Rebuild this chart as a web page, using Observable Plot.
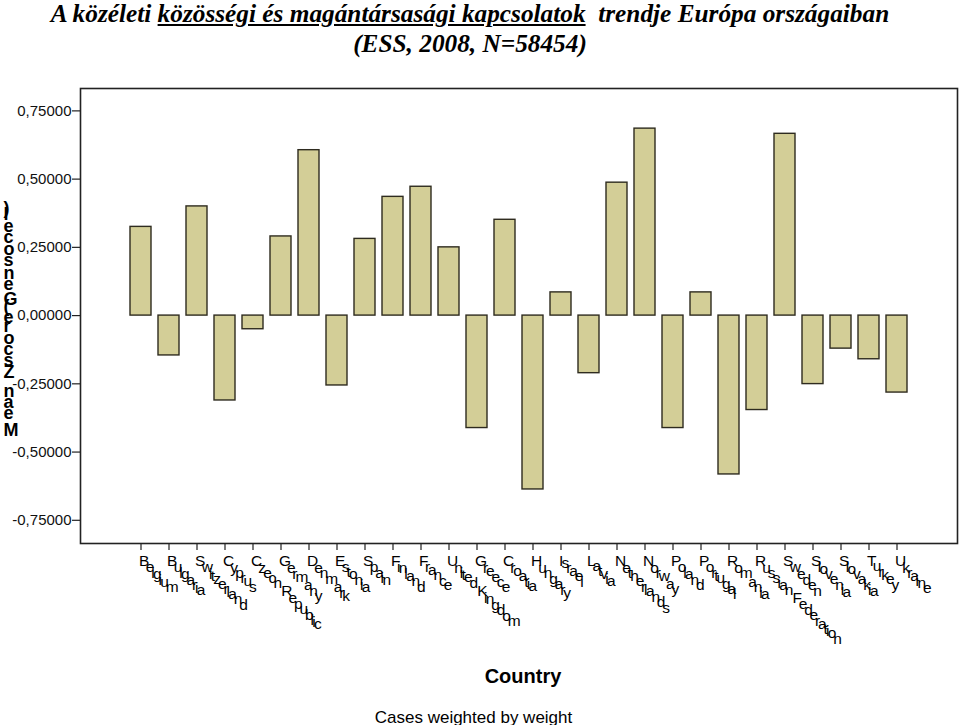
<!DOCTYPE html>
<html>
<head>
<meta charset="utf-8">
<script src="https://cdn.jsdelivr.net/npm/d3@7"></script>
<script src="https://cdn.jsdelivr.net/npm/@observablehq/plot@0.6"></script>
<style>
  html, body { margin: 0; padding: 0; background: #fff; }
  #wrap { position: relative; width: 960px; height: 725px; }
  #title {
    position: absolute; top: -2px; left: 0; width: 940px;
    text-align: center; white-space: pre;
    font-family: "Liberation Serif", "Times New Roman", serif;
    font-weight: bold; font-style: italic; font-size: 25.3px; line-height: 30px;
    color: #000; z-index: 2;
  }
  #chart { position: absolute; top: 0; left: 0; }
</style>
</head>
<body>
<div id="wrap">
  <div id="title">A közéleti <u>közösségi és magántársasági kapcsolatok</u>  trendje Európa országaiban
(ESS, 2008, N=58454)</div>
  <div id="chart"></div>
</div>
<script>
const countries = ["Belgium","Bulgaria","Switzerland","Cyprus","Czech Republic","Germany","Denmark","Estonia","Spain","Finland","France","United Kingdom","Greece","Croatia","Hungary","Israel","Latvia","Netherlands","Norway","Poland","Portugal","Romania","Russian Federation","Sweden","Slovenia","Slovakia","Turkey","Ukraine"];
const values = [0.325,-0.146,0.400,-0.311,-0.050,0.290,0.606,-0.256,0.281,0.435,0.472,0.250,-0.412,0.351,-0.637,0.085,-0.211,0.487,0.685,-0.412,0.085,-0.582,-0.346,0.666,-0.251,-0.121,-0.160,-0.282];
const yTicks = [0.75, 0.5, 0.25, 0, -0.25, -0.5, -0.75];
const yLabel = "Mean Zscore(Gensocel)";
const xLabel = "Country";
const caption = "Cases weighted by weight";

const data = countries.map((c, i) => ({country: c, value: values[i]}));
const huFormat = d3.formatLocale({decimal: ",", thousands: ".", grouping: [3], currency: ["", ""], minus: "-"}).format(".5f");

const fontFamily = '"Liberation Sans", Arial, Helvetica, sans-serif';

const chart = Plot.plot({
  width: 960,
  height: 725,
  marginTop: 88,
  marginLeft: 80,
  marginRight: 3,
  marginBottom: 182,
  style: {fontFamily, fontSize: "15px", color: "#111", background: "#fff"},
  x: {domain: countries, paddingInner: 0.24, paddingOuter: 1.67, label: null},
  y: {domain: [-0.835, 0.832], label: null},
  marks: [
    Plot.barY(data, {x: "country", y1: 0, y2: "value", fill: "#d3ce97", stroke: "#2e2b1f", strokeWidth: 1.4}),
    Plot.frame({stroke: "#222", strokeWidth: 1.6}),
    Plot.axisY({ticks: yTicks, tickFormat: huFormat, tickSize: 8, tickPadding: 1, fontSize: 15, stroke: "#222", strokeWidth: 1.2, label: null}),
    Plot.axisX({tickSize: 7, tickFormat: () => "", stroke: "#222", strokeWidth: 1.2, label: null}),
    Plot.text(countries, {x: d => d, text: d => d, frameAnchor: "bottom", dx: -2, dy: 22, rotate: 45,
      textAnchor: "start", lineAnchor: "bottom", fontSize: 15.5, fill: "#000"}),
    Plot.text([yLabel], {text: d => d, frameAnchor: "bottom-left", dx: -77, dy: -108, rotate: -90,
      textAnchor: "start", lineAnchor: "bottom", fontSize: 18, fontWeight: "bold", fill: "#000"}),
    Plot.text([xLabel], {text: d => d, frameAnchor: "bottom", dx: 4, dy: 139, lineAnchor: "bottom",
      fontSize: 20, fontWeight: "bold", fill: "#000"}),
    Plot.text([caption], {text: d => d, frameAnchor: "bottom", dx: -45.5, dy: 179, lineAnchor: "bottom",
      fontSize: 17, fill: "#000"})
  ]
});

// upright glyphs along rotated baselines, as in the original rendering
const countrySet = new Set(countries);
chart.querySelectorAll("text").forEach(t => {
  const s = t.textContent;
  if (countrySet.has(s)) {
    t.setAttribute("rotate", "-45");
    t.style.letterSpacing = "-0.9px";
  } else if (s === yLabel) {
    t.setAttribute("rotate", "90");
    t.style.letterSpacing = "1.2px";
  }
});

document.getElementById("chart").appendChild(chart);
</script>
</body>
</html>
